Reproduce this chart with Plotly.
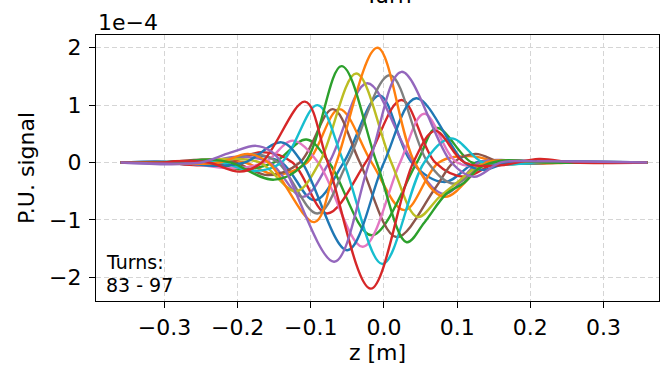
import plotly.graph_objects as go

# signal values are in units of 1e-4 (matplotlib offset text "1e-4")
colors = ["#1f77b4", "#ff7f0e", "#2ca02c", "#d62728", "#9467bd",
          "#8c564b", "#e377c2", "#7f7f7f", "#bcbd22", "#17becf"]
turns = list(range(83, 98))

z_83 = [-0.36, -0.30, -0.273, -0.229, -0.183, -0.140, -0.095, -0.055, -0.006, 0.038, 0.083, 0.126, 0.171, 0.23, 0.36]
s_83 = [0, 0.01, -0.03, 0, 0.13, 0, -0.66, 0, 1.17, 0, -0.34, 0, 0.03, 0, 0]

z_84 = [-0.36, -0.29, -0.238, -0.19, -0.149, -0.105, -0.061, -0.017, 0.028, 0.075, 0.117, 0.16, 0.205, 0.26, 0.36]
s_84 = [0, 0.0, 0.05, 0, -0.21, 0, 0.93, 0, -0.83, 0, 0.11, 0, -0.02, 0, 0]

z_85 = [-0.36, -0.31, -0.283, -0.238, -0.194, -0.15, -0.106, -0.075, -0.017, 0.045, 0.072, 0.12, 0.158, 0.21, 0.36]
s_85 = [0, 0, 0.02, 0, -0.12, 0, 0.4, 0, -1.27, 0, 0.6, 0, -0.04, 0, 0]

z_86 = [-0.36, -0.30, -0.256, -0.212, -0.167, -0.125, -0.078, -0.025, 0.024, 0.07, 0.110, 0.155, 0.199, 0.25, 0.36]
s_86 = [0, 0, -0.05, 0, 0.18, 0, -0.89, 0, 1.09, 0, -0.25, 0, 0.02, 0, 0]

z_87 = [-0.36, -0.29, -0.245, -0.200, -0.156, -0.111, -0.075, -0.023, 0.04, 0.083, 0.13, 0.171, 0.22, 0.36]
s_87 = [0, -0.03, 0, 0.10, 0, -0.6, 0, 1.38, 0, -0.55, 0, 0.04, 0, 0]

z_88 = [-0.36, -0.30, -0.248, -0.204, -0.159, -0.115, -0.070, -0.033, 0.017, 0.07, 0.095, 0.125, 0.16, 0.194, 0.25, 0.36]
s_88 = [0, 0, 0.05, 0, -0.22, 0, 0.93, 0, -1.3, -0.45, 0, 0.15, 0, -0.02, 0, 0]

z_89 = [-0.36, -0.28, -0.207, -0.163, -0.125, -0.09, -0.029, 0.022, 0.055, 0.10, 0.148, 0.20, 0.36]
s_89 = [0, 0, -0.1, 0, 0.38, 0, -1.47, 0, 0.85, 0, -0.05, 0, 0]

z_90 = [-0.36, -0.30, -0.268, -0.222, -0.179, -0.145, -0.091, -0.05, 0.008, 0.06, 0.096, 0.14, 0.185, 0.24, 0.36]
s_90 = [0, 0, -0.02, 0, 0.15, 0, -0.89, 0, 1.52, 0, -0.37, 0, 0.03, 0, 0]

z_91 = [-0.36, -0.28, -0.215, -0.17, -0.12, -0.088, -0.038, 0.01, 0.046, 0.076, 0.10, 0.13, 0.16, 0.22, 0.36]
s_91 = [0, 0, 0.06, 0, -0.5, 0, 1.55, 0, -0.95, -0.6, -0.35, -0.05, 0.03, 0, 0]

z_92 = [-0.36, -0.30, -0.265, -0.222, -0.179, -0.14, -0.091, -0.055, -0.002, 0.055, 0.092, 0.135, 0.175, 0.23, 0.36]
s_92 = [0, 0, 0.02, 0, -0.15, 0, 1.0, 0, -1.77, 0, 0.42, 0, -0.03, 0, 0]

z_93 = [-0.36, -0.29, -0.227, -0.19, -0.14, -0.112, -0.05, 0.0, 0.044, 0.11, 0.135, 0.17, 0.22, 0.36]
s_93 = [0, 0.01, -0.06, 0, 0.35, 0, -1.53, 0, 1.12, 0, -0.13, 0, 0.02, 0]

z_94 = [-0.36, -0.30, -0.273, -0.225, -0.186, -0.158, -0.095, -0.065, -0.009, 0.042, 0.083, 0.14, 0.17, 0.22, 0.36]
s_94 = [0, 0, -0.02, 0, 0.15, 0, -1.04, 0, 2.0, 0, -0.6, 0, 0.03, 0, 0]

z_95 = [-0.36, -0.29, -0.235, -0.21, -0.15, -0.108, -0.058, -0.01, 0.031, 0.055, 0.085, 0.11, 0.13, 0.16, 0.22, 0.36]
s_95 = [0, 0, 0.05, 0, -0.3, 0, 1.68, 0, -1.39, -1.05, -0.55, -0.35, -0.1, 0.03, 0, 0]

z_96 = [-0.36, -0.30, -0.286, -0.24, -0.197, -0.167, -0.108, -0.077, -0.018, 0.04, 0.07, 0.11, 0.158, 0.212, 0.26, 0.36]
s_96 = [0, 0, 0.02, 0, -0.16, 0, 1.06, 0, -2.2, 0, 0.55, 0, -0.05, 0.06, 0, 0]

z_97 = [-0.36, -0.28, -0.25, -0.21, -0.175, -0.155, -0.14, -0.068, -0.02, 0.024, 0.092, 0.123, 0.16, 0.21, 0.36]
s_97 = [0, -0.02, 0, 0.17, 0.29, 0.2, 0, -1.73, 0, 1.58, 0, -0.25, 0, 0.02, 0]

series = [(z_83, s_83), (z_84, s_84), (z_85, s_85), (z_86, s_86), (z_87, s_87),
          (z_88, s_88), (z_89, s_89), (z_90, s_90), (z_91, s_91), (z_92, s_92),
          (z_93, s_93), (z_94, s_94), (z_95, s_95), (z_96, s_96), (z_97, s_97)]

x_ticks = [-0.3, -0.2, -0.1, 0.0, 0.1, 0.2, 0.3]
y_ticks = [-2, -1, 0, 1, 2]

FONT = "DejaVu Sans"
fig = go.Figure()
for i, (t, (zz, ss)) in enumerate(zip(turns, series)):
    fig.add_trace(go.Scatter(x=zz, y=ss, mode="lines", name=f"Turn {t}",
                             line=dict(color=colors[i % 10], width=2.4, shape="spline", smoothing=1.0),
                             showlegend=False))

axis_common = dict(showline=True, linecolor="black", linewidth=1.3, mirror=True,
                   ticks="outside", ticklen=6, tickwidth=1.3, tickcolor="black",
                   showgrid=True, gridcolor="#d5d5d5", gridwidth=1.2, griddash="5px,3px",
                   zeroline=False, tickfont=dict(family=FONT, size=22, color="black"))

fig.update_xaxes(range=[-0.3936, 0.3759], tickvals=x_ticks, tickformat=".1f",
                 title=dict(text="z [m]", font=dict(family=FONT, size=22, color="black"), standoff=4),
                 **axis_common)
fig.update_yaxes(range=[-2.415, 2.222], tickvals=y_ticks, tickformat="d",
                 title=dict(text="P.U. signal", font=dict(family=FONT, size=22, color="black"), standoff=8),
                 ticklabelstandoff=3, **axis_common)

fig.update_layout(
    width=663, height=368,
    margin=dict(l=96, r=4, t=35, b=67, autoexpand=False),
    paper_bgcolor="white", plot_bgcolor="white",
    font=dict(family=FONT, color="black"),
    annotations=[
        dict(text="1e\u22124", xref="paper", yref="paper", x=0, y=0.9925,
             xanchor="left", yanchor="bottom", showarrow=False,
             font=dict(family=FONT, size=22, color="black")),
        dict(text="Turn", xref="paper", yref="paper", x=0.5187, y=1.095,
             xanchor="center", yanchor="bottom", showarrow=False,
             font=dict(family=FONT, size=22, color="black")),
        dict(text="Turns:", xref="paper", yref="paper", x=0.0142, y=0.1466,
             xanchor="left", yanchor="middle", showarrow=False,
             font=dict(family=FONT, size=19, color="black")),
        dict(text="83 - 97", xref="paper", yref="paper", x=0.0142, y=0.0602,
             xanchor="left", yanchor="middle", showarrow=False,
             font=dict(family=FONT, size=19, color="black")),
    ],
)

fig.write_html("out.html", config={"displayModeBar": False},
               post_script="document.body.style.margin='0px';document.body.style.overflow='hidden';")
